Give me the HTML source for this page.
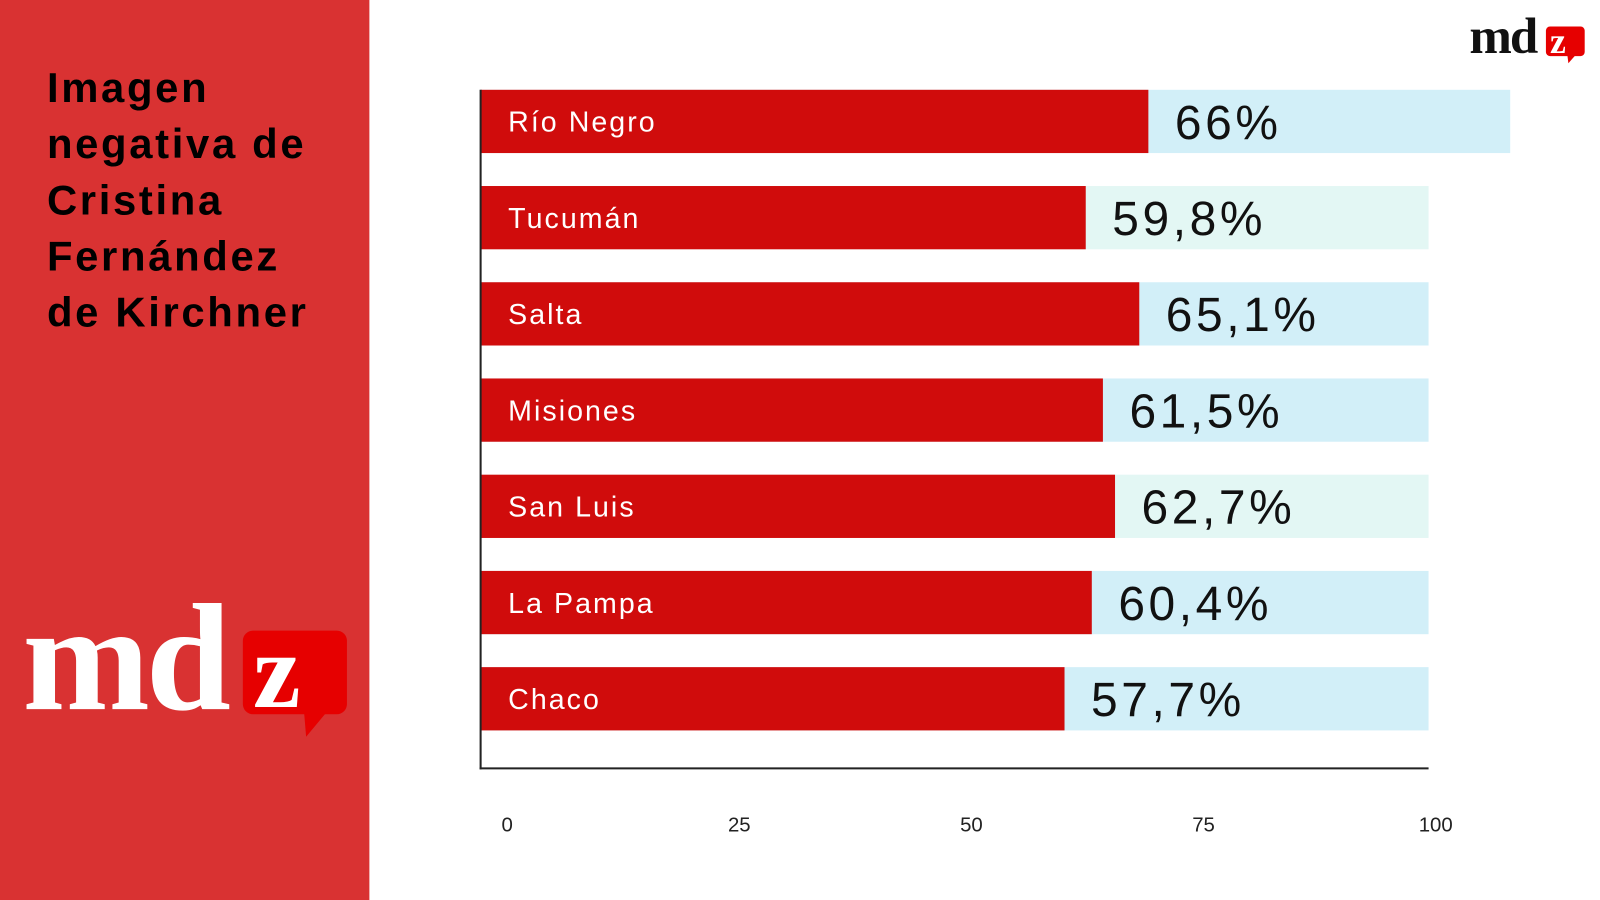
<!DOCTYPE html>
<html><head><meta charset="utf-8"><style>
html,body{margin:0;padding:0;background:#fff;width:1600px;height:900px;overflow:hidden}
svg{display:block}
.sans{font-family:"Liberation Sans",sans-serif}
.serif{font-family:"Liberation Serif",serif}
</style></head><body>
<svg id="chart" class="sans" width="1600" height="900" viewBox="0 0 1568 882" preserveAspectRatio="none" xmlns="http://www.w3.org/2000/svg">
<rect x="0" y="0" width="362" height="882" fill="#d93232"/>
<g font-weight="bold" font-size="41" fill="#000" letter-spacing="2.6">
<text x="46" y="100">Imagen</text>
<text x="46" y="155">negativa de</text>
<text x="46" y="210">Cristina</text>
<text x="46" y="265">Fernández</text>
<text x="46" y="320">de Kirchner</text>
</g>
<g>
<text class="serif" x="22" y="695" font-size="150" font-weight="bold" fill="#fff" letter-spacing="-4">md</text>
<rect x="238" y="618" width="102" height="82" rx="10" fill="#e60000"/>
<polygon points="298,698 320,698 300,722" fill="#e60000"/>
<text class="serif" x="248" y="693" font-size="105" font-weight="bold" fill="#fff">z</text>
</g>
<g>
<text class="serif" x="1440" y="52" font-size="50" font-weight="bold" fill="#111" letter-spacing="-2">md</text>
<rect x="1515" y="26" width="38" height="29" rx="4" fill="#e60000"/>
<polygon points="1536,54 1544,54 1537,62" fill="#e60000"/>
<text class="serif" x="1519" y="52" font-size="35" font-weight="bold" fill="#fff">z</text>
</g>
<g id="bars"></g>
<line x1="471" y1="88" x2="471" y2="754" stroke="#222" stroke-width="2"/>
<line x1="470" y1="753" x2="1400" y2="753" stroke="#222" stroke-width="2"/>
<g id="ticks"></g>
</svg>
<script>
const categories = ["Río Negro","Tucumán","Salta","Misiones","San Luis","La Pampa","Chaco"];
const values = [66, 59.8, 65.1, 61.5, 62.7, 60.4, 57.7];
const valueLabels = ["66%","59,8%","65,1%","61,5%","62,7%","60,4%","57,7%"];
const tickValues = [0, 25, 50, 75, 100];
const tickLabels = ["0","25","50","75","100"];

const NS = "http://www.w3.org/2000/svg";
const x = v => 472 + v * 9.9;
const tx = v => 497 + v * 9.1;
const y = i => 88 + i * 94.3;
const barH = 62;
const bars = document.getElementById("bars");
const ticks = document.getElementById("ticks");
function mk(tag, attrs, parent){const e=document.createElementNS(NS,tag);for(const k in attrs)e.setAttribute(k,attrs[k]);parent.appendChild(e);return e;}

categories.forEach((c, i) => {
  const g = mk("g", {}, bars);
  
  
  const trackEnd = i === 0 ? 1480 : 1400;
  const trackFill = (i === 1 || i === 4) ? "#e3f7f4" : "#d2eff8";
  const tr = mk("rect", {x:471, y:y(i), width:trackEnd-471, height:barH, fill:trackFill}, g);
  
  
  const r = mk("rect", {x:471, y:y(i), width:x(values[i])-471, height:barH, fill:"#d00c0c"}, g);
  
  
  const t = mk("text", {x:498, y:y(i)+41, "font-size":28, fill:"#fff", "letter-spacing":2}, g);
  t.textContent = c;
  
  
  const vl = mk("text", {x:x(values[i])+26, y:y(i)+48, "font-size":47, fill:"#111", "letter-spacing":3.5}, g);
  vl.textContent = valueLabels[i];
  
  
});

tickValues.forEach((v, i) => {
  const t = mk("text", {x:tx(v), y:815, "font-size":20, fill:"#222", "text-anchor":"middle"}, ticks);
  t.textContent = tickLabels[i];
  
  
});
</script>
</body></html>
